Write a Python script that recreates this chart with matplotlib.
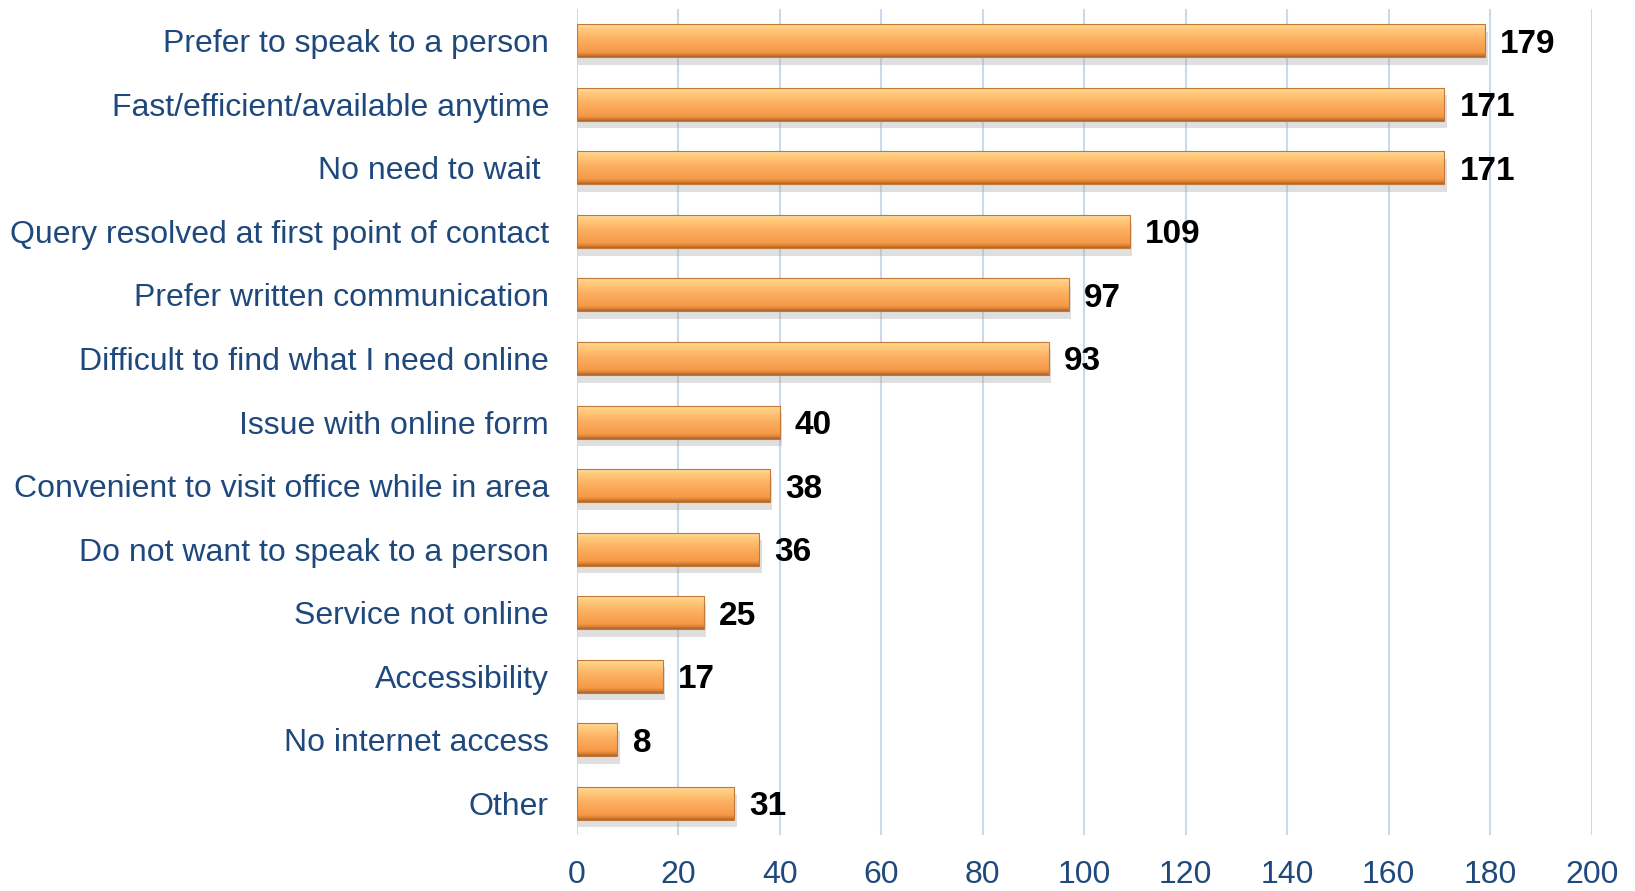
import numpy as np
import matplotlib
matplotlib.use("Agg")
import matplotlib.pyplot as plt
from matplotlib.colors import LinearSegmentedColormap
from matplotlib.patches import Rectangle

categories = [
    "Prefer to speak to a person",
    "Fast/efficient/available anytime",
    "No need to wait ",
    "Query resolved at first point of contact",
    "Prefer written communication",
    "Difficult to find what I need online",
    "Issue with online form",
    "Convenient to visit office while in area",
    "Do not want to speak to a person",
    "Service not online",
    "Accessibility",
    "No internet access",
    "Other",
]
counts = [179, 171, 171, 109, 97, 93, 40, 38, 36, 25, 17, 8, 31]
x_ticks = [0, 20, 40, 60, 80, 100, 120, 140, 160, 180, 200]

label_color = "#1F497D"
grid_color = "#C9DAEE"

plt.rcParams["font.family"] = ["Liberation Sans", "DejaVu Sans"]

fig = plt.figure(figsize=(16.35, 8.91), dpi=100)
ax = fig.add_axes([0.3527, 0.0628, 0.6208, 0.9271])

y = np.arange(len(categories))
bar_h = 0.52

# vertical gradient used to fill each bar
grad_cmap = LinearSegmentedColormap.from_list(
    "bar_grad",
    [(0.0, "#FFDFA0"), (0.2, "#FFC878"), (0.5, "#FCAD60"),
     (0.85, "#F59A48"), (0.93, "#D98035"), (1.0, "#A9622A")],
)
grad = np.linspace(0, 1, 256).reshape(-1, 1)

bars = ax.barh(y, counts, height=bar_h, color="none", edgecolor="none", zorder=3)

for rect, val in zip(bars, counts):
    x0, y0 = rect.get_x(), rect.get_y()
    w, h = rect.get_width(), rect.get_height()
    # soft grey shadow under the bar
    ax.add_patch(Rectangle((x0 + 0.2, y0 + 0.12), w + 0.3, h,
                           facecolor="#A5A5A5", alpha=0.35,
                           edgecolor="none", zorder=2))
    im = ax.imshow(grad, cmap=grad_cmap, aspect="auto",
                   extent=(x0, x0 + w, y0 + h, y0), zorder=4,
                   interpolation="bilinear")
    im.set_clip_path(rect)
    ax.add_patch(Rectangle((x0, y0), w, h, facecolor="none",
                           edgecolor="#C47838", linewidth=0.8, zorder=5))
    ax.annotate(f"{val}", xy=(x0 + w, y0 + h / 2), xytext=(11, 0),
                textcoords="offset points", va="center_baseline", ha="left",
                fontsize=24, fontweight="bold", color="black", zorder=6)

ax.set_xlim(0, 200)
ax.set_ylim(len(categories) - 0.5, -0.5)
ax.set_xticks(x_ticks)
ax.set_yticks(y)
ax.set_yticklabels(categories)
ax.tick_params(axis="y", length=0, pad=20, labelsize=23, labelcolor=label_color)
ax.tick_params(axis="x", length=0, pad=18, labelsize=23, labelcolor=label_color)

ax.xaxis.grid(True, color=grid_color, linewidth=1.5, zorder=0)
ax.set_axisbelow(True)
for s in ax.spines.values():
    s.set_visible(False)

fig.savefig("out.png", dpi=100)
